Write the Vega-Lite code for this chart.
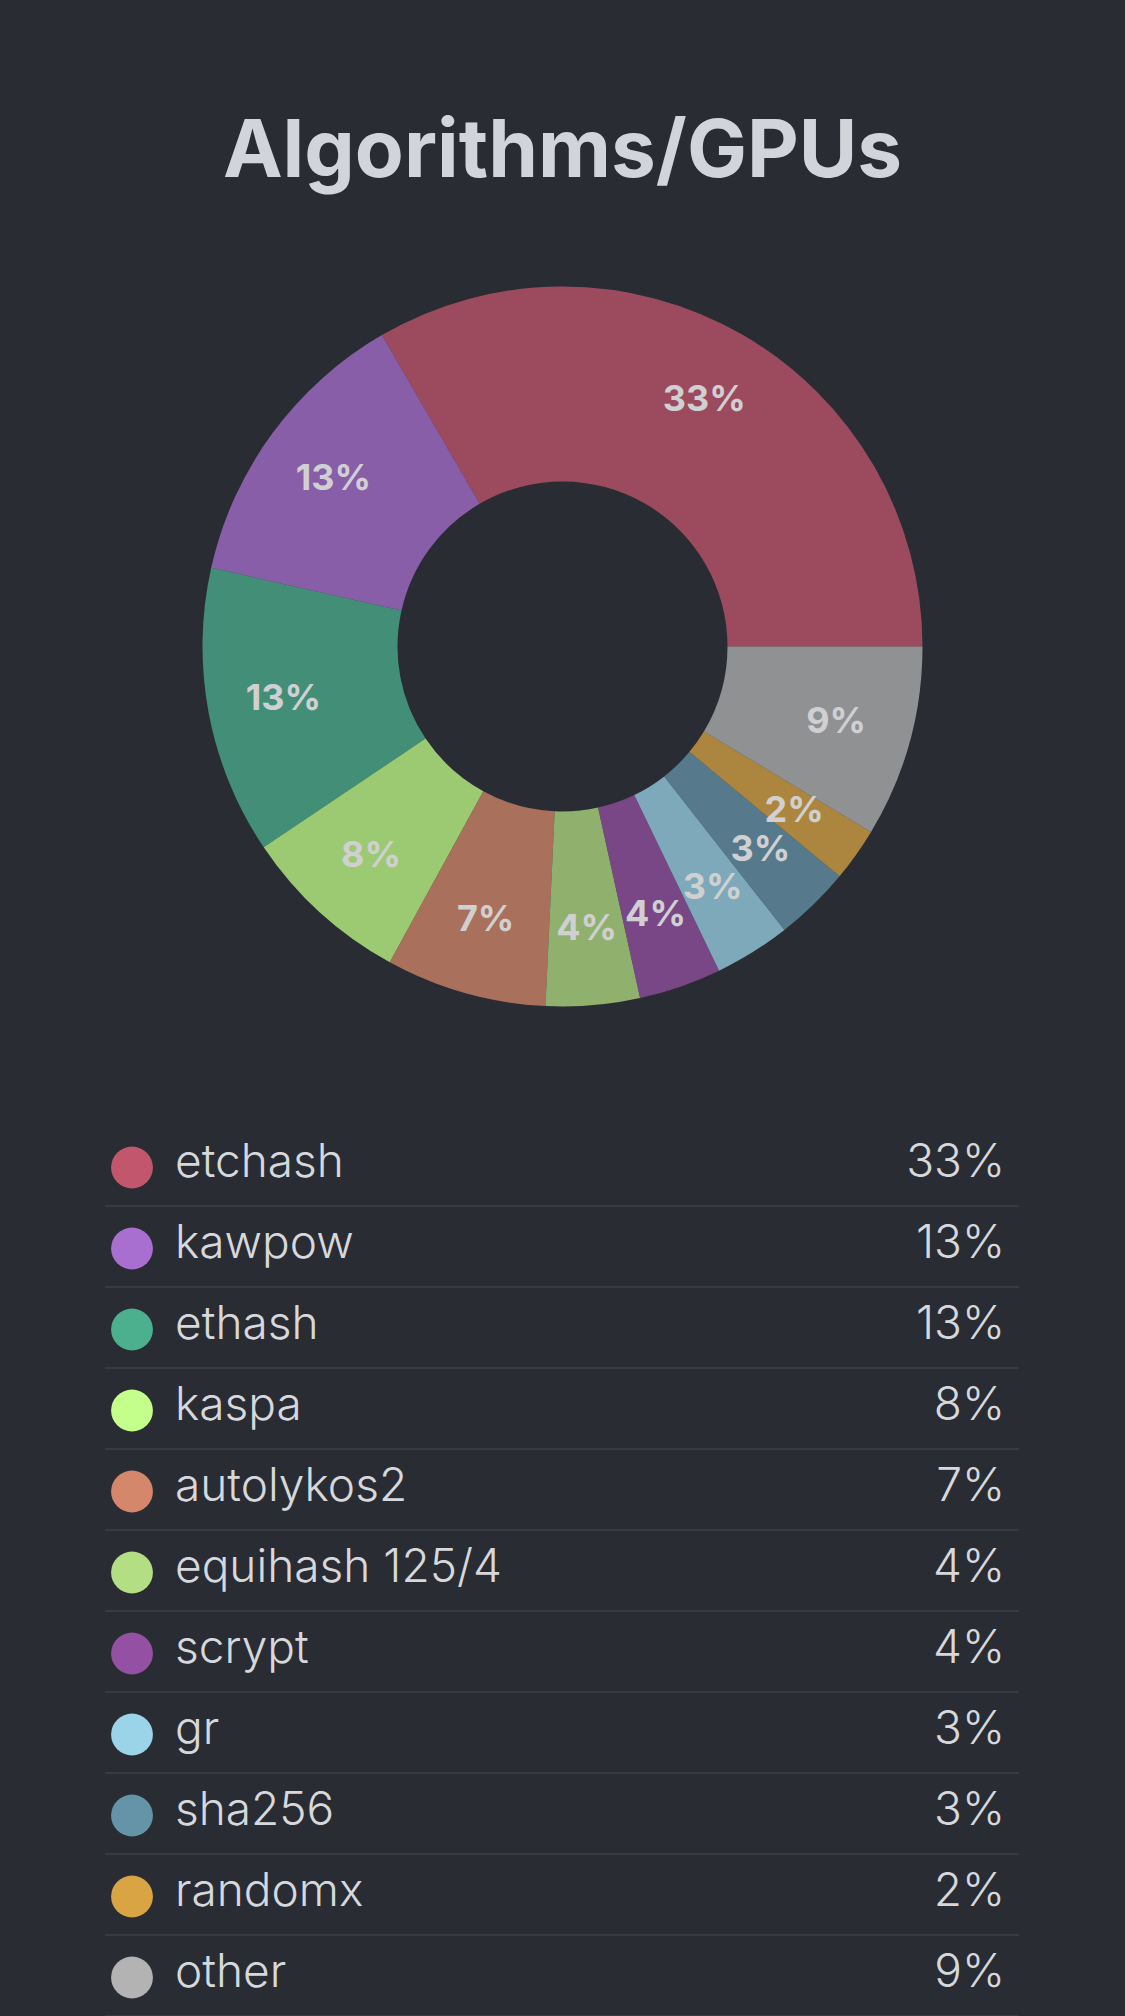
{
  "$schema": "https://vega.github.io/schema/vega-lite/v6.json",
  "background": "#292c33",
  "padding": {"top": 113, "left": 0, "right": 0, "bottom": 0},
  "title": {
    "text": "Algorithms/GPUs",
    "font": "Inter",
    "fontSize": 80,
    "fontWeight": "bold",
    "color": "#d1d4d8",
    "anchor": "middle",
    "offset": 18
  },
  "datasets": {
    "algos": [
      {"idx": 0, "name": "etchash", "share": 0.333},
      {"idx": 1, "name": "kawpow", "share": 0.131},
      {"idx": 2, "name": "ethash", "share": 0.129},
      {"idx": 3, "name": "kaspa", "share": 0.076},
      {"idx": 4, "name": "autolykos2", "share": 0.072},
      {"idx": 5, "name": "equihash 125/4", "share": 0.042},
      {"idx": 6, "name": "scrypt", "share": 0.037},
      {"idx": 7, "name": "gr", "share": 0.034},
      {"idx": 8, "name": "sha256", "share": 0.034},
      {"idx": 9, "name": "randomx", "share": 0.024},
      {"idx": 10, "name": "other", "share": 0.086}
    ]
  },
  "vconcat": [
    {
      "width": 1125,
      "height": 869,
      "data": {"name": "algos"},
      "encoding": {
        "theta": {"field": "share", "type": "quantitative", "stack": true, "scale": {"range": [1.5708, 7.854]}},
        "order": {"field": "idx", "type": "quantitative", "sort": "descending"},
        "color": {
          "field": "name", "type": "nominal", "legend": null,
          "scale": {
            "domain": ["etchash", "kawpow", "ethash", "kaspa", "autolykos2", "equihash 125/4", "scrypt", "gr", "sha256", "randomx", "other"],
            "range": ["#c2566c", "#a86fd0", "#4caf8e", "#c3ff8a", "#d4876a", "#b3de83", "#9450a3", "#9bd3e8", "#6594a9", "#d8a444", "#b3b3b3"]
          }
        }
      },
      "layer": [
        {"mark": {"type": "arc", "outerRadius": 360, "innerRadius": 165, "opacity": 0.75}},
        {
          "mark": {"type": "text", "radius": 284, "font": "Inter", "fontSize": 36, "fontWeight": "bold", "fill": "#d0d0d2"},
          "encoding": {
            "text": {"field": "share", "type": "quantitative", "format": ".0%"},
            "color": {"value": "#d0d0d2"}
          }
        }
      ]
    },
    {
      "width": 914,
      "height": 891,
      "data": {"name": "algos"},
      "encoding": {
        "y": {"field": "name", "type": "nominal", "sort": {"field": "idx"}, "axis": null, "scale": {"paddingInner": 0, "paddingOuter": 0}}
      },
      "layer": [
        {
          "mark": {"type": "rule", "stroke": "#373a43", "strokeWidth": 2, "yOffset": -2},
          "encoding": {
            "y": {"field": "name", "type": "nominal", "sort": {"field": "idx"}, "axis": null, "bandPosition": 1},
            "x": {"value": 0},
            "x2": {"value": "width"}
          }
        },
        {
          "mark": {"type": "point", "filled": true, "opacity": 1, "size": 1750, "shape": "circle", "xOffset": 27},
          "encoding": {
            "x": {"value": 0},
            "color": {"field": "name", "type": "nominal", "legend": null}
          }
        },
        {
          "mark": {"type": "text", "align": "left", "baseline": "middle", "dx": 70, "dy": -5, "font": "Inter", "fontSize": 46, "fontWeight": 300, "fill": "#d6d8dc"},
          "encoding": {
            "x": {"value": 0},
            "text": {"field": "name", "type": "nominal"}
          }
        },
        {
          "mark": {"type": "text", "align": "right", "baseline": "middle", "dx": -14, "dy": -5, "font": "Inter", "fontSize": 46, "fontWeight": 300, "fill": "#d6d8dc"},
          "encoding": {
            "x": {"value": "width"},
            "text": {"field": "share", "type": "quantitative", "format": ".0%"}
          }
        }
      ]
    }
  ],
  "spacing": 46,
  "center": true,
  "config": {"view": {"stroke": null}}
}
